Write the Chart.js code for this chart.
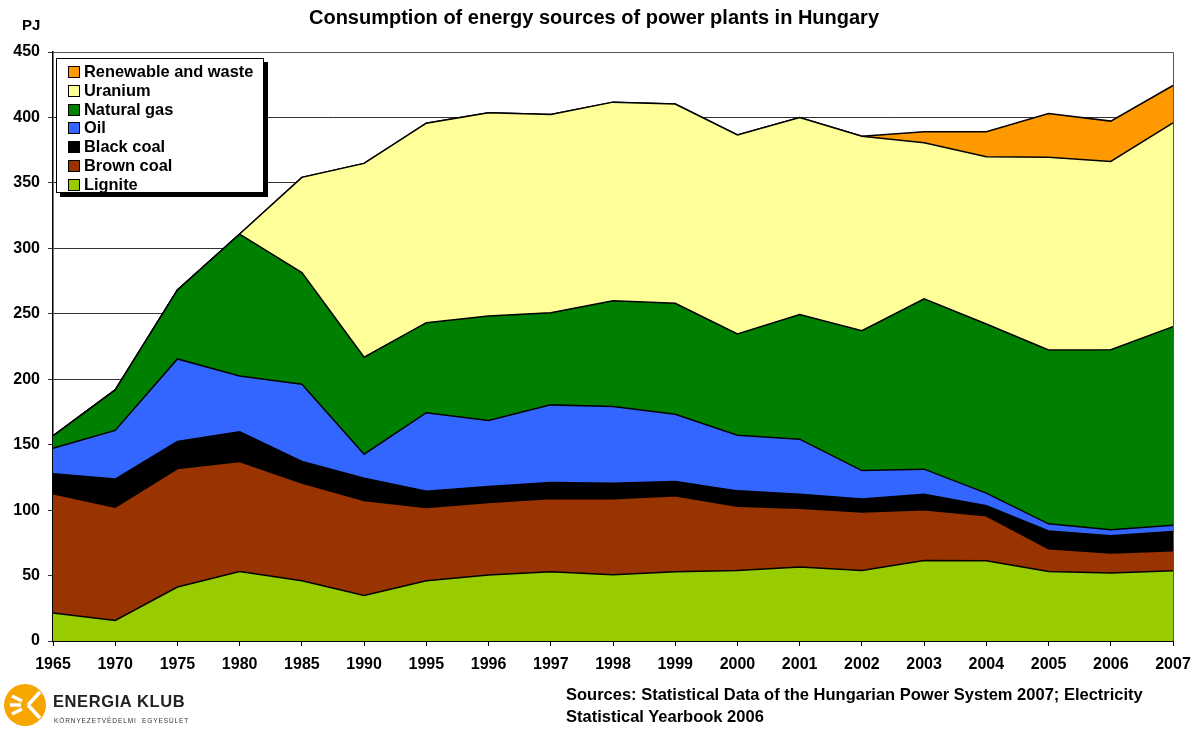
<!DOCTYPE html>
<html>
<head>
<meta charset="utf-8">
<script src="https://cdn.jsdelivr.net/npm/chart.js@4"></script>
<style>
body { margin: 0; background: #fff; font-family: "Liberation Sans", Arial, sans-serif; }
#wrap { position: relative; width: 1200px; height: 729px; overflow: hidden; }
#title { position: absolute; left: -6px; width: 1200px; top: 6px; text-align: center; font-weight: bold; font-size: 20px; }
#unit { position: absolute; left: 22px; top: 16px; font-weight: bold; font-size: 15px; }
#legend { position: absolute; left: 56px; top: 58px; width: 206px; height: 133px; border: 1.5px solid #000; background: #fff; box-shadow: 4px 4px 0 #000; }
.item { position: absolute; left: 11px; height: 19px; line-height: 19px; font-weight: bold; font-size: 16.4px; white-space: nowrap; }
.item span { display: inline-block; width: 10px; height: 10px; border: 1px solid #000; margin-right: 4px; vertical-align: -1px; }
#sources { position: absolute; left: 566px; top: 683px; font-weight: bold; font-size: 16.5px; line-height: 22px; }
#logo { position: absolute; left: 2px; top: 682px; }
#klub { position: absolute; left: 53px; top: 692px; font-weight: bold; font-size: 16.5px; letter-spacing: 0.6px; color: #222; }
#klub2 { position: absolute; left: 54px; top: 717px; font-size: 6.5px; letter-spacing: 0.9px; color: #333; }
</style>
</head>
<body>
<div id="wrap">
  <canvas id="chartEnergy" width="1200" height="729"></canvas>
  <div id="title">Consumption of energy sources of power plants in Hungary</div>
  <div id="unit">PJ</div>
  <div id="legend"></div>
  <svg id="logo" width="46" height="46" viewBox="0 0 46 46">
    <circle cx="23" cy="23" r="21" fill="#f7a600"/>
    <path d="M10 14 L20 19 M8 23 L19 23 M10 32 L20 27 M26 23 L38 10 M26 23 L38 36" stroke="#fff" stroke-width="3.5" fill="none"/>
  </svg>
  <div id="klub">ENERGIA KLUB</div>
  <div id="klub2">KÖRNYEZETVÉDELMI&nbsp;&nbsp;EGYESÜLET</div>
  <div id="sources">Sources: Statistical Data of the Hungarian Power System 2007; Electricity<br>Statistical Yearbook 2006</div>
</div>
<script>
/*Values, in PJ*/
let years = ["1965","1970","1975","1980","1985","1990","1995","1996","1997","1998","1999","2000","2001","2002","2003","2004","2005","2006","2007"];

let lignite   = [21.4, 15.7, 41.2, 53.1, 46.0, 34.8, 46.0, 50.4, 52.9, 50.6, 52.9, 53.9, 56.5, 53.9, 61.5, 61.3, 53.1, 51.9, 53.7];
let brownCoal = [91.0, 86.6, 90.6, 84.0, 74.6, 72.5, 56.0, 55.4, 56.0, 58.0, 58.0, 49.1, 45.0, 44.6, 38.7, 34.3, 17.4, 15.3, 15.2];
let blackCoal = [15.3, 21.4, 20.6, 22.7, 16.5, 17.1, 12.5, 12.2, 12.2, 12.0, 10.9, 11.7, 10.7, 9.9, 12.0, 7.7, 13.5, 13.2, 14.8];
let oil       = [19.6, 37.2, 63.1, 42.7, 59.1, 18.3, 59.9, 50.4, 59.3, 58.5, 51.5, 42.5, 42.0, 21.8, 19.1, 9.7, 5.5, 4.6, 4.8];
let naturalGas = [9.4, 30.9, 52.7, 108.4, 85.2, 74.1, 68.8, 79.9, 70.4, 80.9, 84.7, 77.4, 95.2, 106.9, 130.2, 129.2, 132.9, 137.6, 151.7];
let uranium   = [0, 0, 0, 0, 72.8, 148.1, 152.4, 155.2, 151.5, 151.7, 152.2, 152.1, 150.6, 148.6, 119.1, 127.7, 147.1, 143.8, 155.7];
let renewable = [0, 0, 0, 0, 0, 0, 0, 0, 0, 0, 0, 0, 0, 0, 8.4, 19.1, 33.5, 30.8, 28.5];

let yTicks = [0, 50, 100, 150, 200, 250, 300, 350, 400, 450];

let series = [
    { label: "Lignite", data: lignite, color: "#99cc00" },
    { label: "Brown coal", data: brownCoal, color: "#993300" },
    { label: "Black coal", data: blackCoal, color: "#000000" },
    { label: "Oil", data: oil, color: "#3366ff" },
    { label: "Natural gas", data: naturalGas, color: "#008000" },
    { label: "Uranium", data: uranium, color: "#ffff99" },
    { label: "Renewable and waste", data: renewable, color: "#ff9900" }
];

/*legend in html, top item is the last series*/
let legendBox = document.getElementById("legend");
series.slice().reverse().forEach(function (s, i) {
    let div = document.createElement("div");
    div.className = "item";
    div.style.top = (3 + i * 18.8) + "px";
    div.innerHTML = '<span style="background:' + s.color + '"></span>' + s.label;
    legendBox.appendChild(div);
});

/*frame on top and right of the plot area*/
let framePlugin = {
    id: "frame",
    afterDraw: function (chart) {
        let a = chart.chartArea;
        let ctx = chart.ctx;
        ctx.save();
        ctx.strokeStyle = "#555";
        ctx.lineWidth = 1;
        ctx.beginPath();
        ctx.moveTo(a.left, a.top + 0.5);
        ctx.lineTo(a.right + 0.5, a.top + 0.5);
        ctx.lineTo(a.right + 0.5, a.bottom);
        ctx.stroke();
        ctx.restore();
    }
};

let ctx = document.getElementById("chartEnergy").getContext("2d");

let energyChart = new Chart(ctx, {
    type: "line",
    data: {
        labels: years,
        datasets: series.map(function (s, i) {
            return {
                label: s.label,
                data: s.data,
                backgroundColor: s.color,
                borderColor: "#000",
                borderWidth: 1.5,
                pointRadius: 0,
                tension: 0,
                fill: i === 0 ? "origin" : "-1"
            };
        })
    },
    options: {
        responsive: false,
        animation: false,
        layout: { padding: { left: 0, right: 27, top: 52, bottom: 58 } },
        plugins: {
            legend: { display: false },
            title: { display: false },
            tooltip: { enabled: false }
        },
        scales: {
            x: {
                offset: false,
                grid: { drawOnChartArea: false, drawTicks: true, tickLength: 5, color: "#000" },
                border: { color: "#000", width: 2 },
                ticks: {
                    color: "#000",
                    padding: 9,
                    maxRotation: 0,
                    autoSkip: false,
                    font: { family: "'Liberation Sans', Arial", size: 16, weight: "bold" }
                },
                afterFit: function (scale) { scale.height = 30; }
            },
            y: {
                stacked: true,
                min: 0,
                max: 450,
                afterBuildTicks: function (scale) {
                    scale.ticks = yTicks.map(function (v) { return { value: v }; });
                },
                grid: { color: "#333", lineWidth: 1, tickLength: 5 },
                border: { color: "#000", width: 1.5 },
                ticks: {
                    color: "#000",
                    padding: 8,
                    font: { family: "'Liberation Sans', Arial", size: 16, weight: "bold" }
                },
                afterFit: function (scale) { scale.width = 53; }
            }
        }
    },
    plugins: [framePlugin]
});
</script>
</body>
</html>
